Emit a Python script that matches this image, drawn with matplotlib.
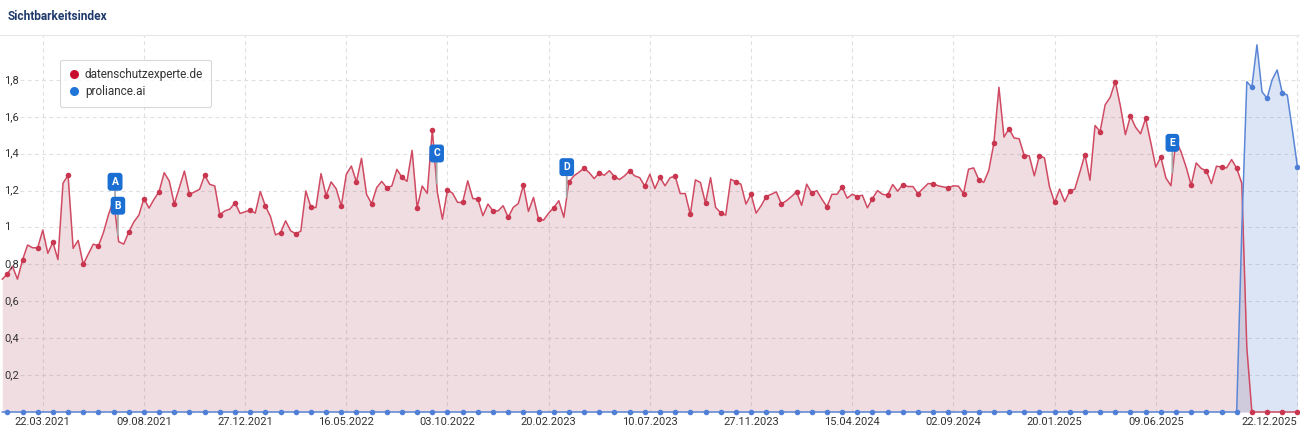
import matplotlib
matplotlib.use('Agg')
import matplotlib.pyplot as plt
import matplotlib.dates as mdates
from matplotlib.lines import Line2D
import numpy as np
import pandas as pd

plt.rcParams['font.family'] = ['Roboto', 'DejaVu Sans']

# ---------------- data ----------------
dates = pd.date_range('2021-01-25', periods=257, freq='7D')

red = [
    0.72, 0.748, 0.79, 0.72, 0.824, 0.905, 0.89, 0.89, 0.986, 0.86,
    0.92, 0.826, 1.24, 1.283, 0.887, 0.93, 0.80, 0.856, 0.91, 0.90,
    0.973, 1.07, 1.15, 0.923, 0.91, 0.975, 1.03, 1.067, 1.157, 1.105,
    1.153, 1.195, 1.297, 1.252, 1.128, 1.216, 1.306, 1.18, 1.193, 1.207,
    1.283, 1.234, 1.225, 1.07, 1.09, 1.10, 1.134, 1.076, 1.085, 1.094,
    1.078, 1.195, 1.116, 1.06, 0.96, 0.972, 1.036, 0.982, 0.966, 0.98,
    1.198, 1.11, 1.108, 1.292, 1.173, 1.247, 1.21, 1.116, 1.288, 1.333,
    1.247, 1.375, 1.18, 1.128, 1.216, 1.25, 1.215, 1.225, 1.315, 1.272,
    1.25, 1.418, 1.107, 1.225, 1.185, 1.53, 1.19, 1.045, 1.204, 1.186,
    1.136, 1.136, 1.253, 1.157, 1.154, 1.064, 1.127, 1.09, 1.09, 1.118,
    1.055, 1.109, 1.13, 1.229, 1.087, 1.163, 1.045, 1.04, 1.078, 1.107,
    1.145, 1.055, 1.247, 1.28, 1.30, 1.321, 1.298, 1.265, 1.296, 1.283,
    1.308, 1.276, 1.26, 1.28, 1.308, 1.28, 1.27, 1.224, 1.289, 1.211,
    1.272, 1.226, 1.27, 1.278, 1.184, 1.184, 1.071, 1.258, 1.244, 1.132,
    1.27, 1.109, 1.08, 1.067, 1.262, 1.247, 1.235, 1.127, 1.18, 1.078,
    1.118, 1.168, 1.18, 1.193, 1.128, 1.145, 1.168, 1.193, 1.12, 1.235,
    1.186, 1.2, 1.154, 1.112, 1.18, 1.18, 1.22, 1.159, 1.18, 1.168,
    1.175, 1.107, 1.157, 1.2, 1.18, 1.175, 1.233, 1.197, 1.233, 1.222,
    1.222, 1.183, 1.211, 1.238, 1.237, 1.226, 1.22, 1.215, 1.226, 1.224,
    1.184, 1.316, 1.323, 1.26, 1.244, 1.31, 1.456, 1.76, 1.49, 1.535,
    1.485, 1.481, 1.39, 1.388, 1.28, 1.39, 1.377, 1.22, 1.136, 1.208,
    1.14, 1.197, 1.208, 1.30, 1.395, 1.256, 1.553, 1.52, 1.665, 1.706,
    1.791, 1.66, 1.503, 1.604, 1.544, 1.508, 1.591, 1.463, 1.328, 1.382,
    1.269, 1.226, 1.472, 1.41, 1.328, 1.229, 1.35, 1.32, 1.307, 1.238,
    1.332, 1.328, 1.323, 1.368, 1.321, 1.24, 0.35, 0, 0, 0,
    0, 0, 0, 0, 0, 0, 0,
]

blue = [0.0] * 245 + [0.98, 1.79, 1.76, 1.99, 1.736, 1.70, 1.80, 1.854,
                      1.73, 1.718, 1.528, 1.33]

series_names = ['datenschutzexperte.de', 'proliance.ai']

tick_dates = pd.to_datetime([
    '2021-03-22', '2021-08-09', '2021-12-27', '2022-05-16', '2022-10-03',
    '2023-02-20', '2023-07-10', '2023-11-27', '2024-04-15', '2024-09-02',
    '2025-01-20', '2025-06-09', '2025-12-22'])
tick_labels = [d.strftime('%d.%m.%Y') for d in tick_dates]

y_ticks = [0.2, 0.4, 0.6, 0.8, 1.0, 1.2, 1.4, 1.6, 1.8]
y_tick_labels = ['0,2', '0,4', '0,6', '0,8', '1', '1,2', '1,4', '1,6', '1,8']

flag_labels = ['A', 'B', 'C', 'D', 'E']
flag_dates = pd.to_datetime(['2021-06-30', '2021-07-04', '2022-09-18',
                             '2023-03-17', '2025-07-02'])

# ---------------- styles ----------------
RED_LINE = '#cf4a62'
RED_MARK = '#c8364f'
RED_FILL = '#b5576a'
BLUE_LINE = '#5a86d6'
BLUE_MARK = '#4f7fd6'
BLUE_FILL = '#4a78d0'
GRID = '#e0e0e0'
TXT = '#333333'

W, H = 1300, 433
fig = plt.figure(figsize=(W / 100, H / 100), dpi=100)
ax = fig.add_axes([0, 20 / H, 1, 378 / H])

x = mdates.date2num(dates)
px_per_day = 5.059 / 7
left = x[0] - 2.3 / px_per_day
ax.set_xlim(left, left + W / px_per_day)
ax.set_ylim(-1 / 184.5, 377 / 184.5)

# grid
for v in y_ticks:
    ax.axhline(v, xmin=20 / W, color=GRID, lw=0.8, ls=(0, (3.5, 3)), zorder=0.5)
for d in tick_dates:
    ax.axvline(mdates.date2num(d), color=GRID, lw=0.8, ls=(0, (3.5, 3)), zorder=0.5)

# fills
ax.fill_between(x, 0, red, color=RED_FILL, alpha=0.2, lw=0, zorder=1)
ax.fill_between(x, 0, blue, color=BLUE_FILL, alpha=0.19, lw=0, zorder=1)

# lines
ax.plot(x, red, color=RED_LINE, lw=1.1, zorder=3, clip_on=False)
ax.plot(x[1::3], np.array(red)[1::3], ls='none', marker='o', markersize=4,
        mew=0, color=RED_MARK, zorder=3.2, clip_on=False)
ax.plot(x, blue, color=BLUE_LINE, lw=1.1, zorder=3.5, clip_on=False)
ax.plot(x[1::3], np.array(blue)[1::3], ls='none', marker='o', markersize=4,
        mew=0, color=BLUE_MARK, zorder=3.6, clip_on=False)

# y labels inside plot
for v, lab in zip(y_ticks, y_tick_labels):
    ax.text(4 / W, v, lab, transform=ax.get_yaxis_transform(), ha='left',
            va='center', fontsize=8, color=TXT, zorder=4)
ax.set_yticks([])

# x ticks
ax.set_xticks(mdates.date2num(tick_dates))
ax.set_xticklabels(tick_labels, fontsize=8, color=TXT)
ax.tick_params(axis='x', length=0, pad=3)
ax.get_xticklabels()[-1].set_ha('right')

for s in ['left', 'right', 'bottom']:
    ax.spines[s].set_visible(False)
ax.spines['top'].set_color('#e8e8e8')
ax.spines['top'].set_linewidth(0.8)

# flags
for lab, d in zip(flag_labels, flag_dates):
    xd = mdates.date2num(d)
    yv = np.interp(xd, x, red)
    ax.annotate(lab, xy=(xd, yv), xytext=(0, 30), textcoords='offset pixels',
                ha='center', va='center', fontsize=7.5, fontweight='bold',
                color='white', zorder=6,
                bbox=dict(boxstyle='round,pad=0.38,rounding_size=0.3',
                          fc='#1b6fd3', ec='none'),
                arrowprops=dict(arrowstyle='-', color='#a8a8a8', lw=1.3,
                                shrinkA=0, shrinkB=0))

# legend
handles = [Line2D([], [], marker='o', ls='none', color='#c8102e', markersize=6.5, mew=0),
           Line2D([], [], marker='o', ls='none', color='#1f74d8', markersize=6.5, mew=0)]
leg = ax.legend(handles, series_names, loc='upper left',
                bbox_to_anchor=(60 / W, 1 - 25 / 378), frameon=True,
                fancybox=True, fontsize=8.5, labelcolor=TXT,
                handletextpad=0.4, borderpad=0.7, labelspacing=0.35,
                handlelength=1.0, borderaxespad=0)
leg.get_frame().set_edgecolor('#cfcfcf')
leg.get_frame().set_linewidth(0.8)
leg.set_zorder(7)

fig.text(8 / W, 1 - 16.7 / H, 'Sichtbarkeitsindex', fontsize=8.6,
         fontweight='bold', color='#1f3a6b', va='center', ha='left')

fig.savefig('out.png', dpi=100)
